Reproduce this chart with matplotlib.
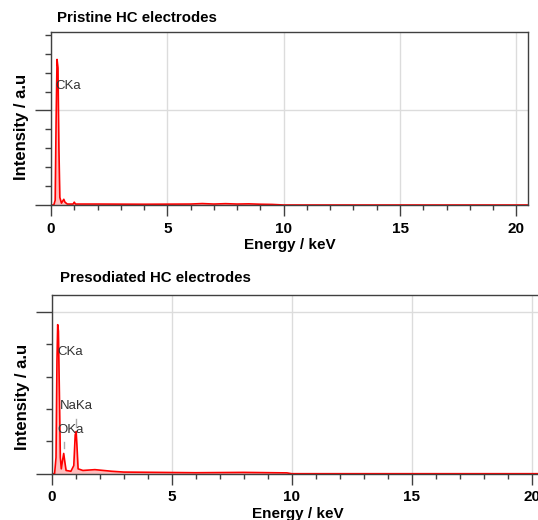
import matplotlib.pyplot as plt
from matplotlib.ticker import MultipleLocator

# EDS spektri - vrijednosti očitane sa slike (intenzitet u proizvoljnim jedinicama)
energy_pristine = [0, 0.12, 0.18, 0.22, 0.26, 0.30, 0.34, 0.38, 0.45, 0.50, 0.55, 0.60,
                   0.70, 0.95, 1.00, 1.05, 2.0, 4.0, 6.0, 6.5, 7.0, 7.5, 8.0, 8.5, 9.0,
                   9.5, 10.0, 20.5]
int_pristine = [0, 0, 0.05, 0.9, 1.54, 1.45, 0.6, 0.08, 0.02, 0.04, 0.06, 0.03,
                0.01, 0.01, 0.03, 0.01, 0.01, 0.008, 0.01, 0.015, 0.01, 0.014, 0.01,
                0.012, 0.008, 0.006, 0, 0]

energy_presod = [0, 0.12, 0.18, 0.22, 0.25, 0.28, 0.32, 0.36, 0.40, 0.45, 0.50, 0.55,
                 0.60, 0.80, 0.92, 0.98, 1.02, 1.06, 1.10, 1.30, 1.8, 2.5, 3.0, 6.0,
                 8.0, 9.8, 10.0, 20.5]
int_presod = [0, 0, 0.1, 0.7, 0.92, 0.88, 0.5, 0.1, 0.03, 0.08, 0.125, 0.07,
              0.02, 0.015, 0.05, 0.24, 0.26, 0.15, 0.03, 0.02, 0.025, 0.015, 0.01, 0.006,
              0.008, 0.005, 0, 0]

# oznake linija: (tekst, x, y)
labels_pristine = [("CKa", 0.17, 1.26)]
labels_presod = [("CKa", 0.22, 0.75), ("NaKa", 0.35, 0.42), ("OKa", 0.22, 0.27)]
markers_presod = [(0.50, 0.16, 0.196), (1.0, 0.29, 0.34)]

titles = ["Pristine HC electrodes", "Presodiated HC electrodes"]

fig = plt.figure(figsize=(5.38, 5.2), dpi=100)
ax1 = fig.add_axes([51 / 538, 315 / 520, 477 / 538, 173 / 520])
ax2 = fig.add_axes([51.7 / 538, 46.3 / 520, 492 / 538, 179 / 520])

spine_c = '#404040'
for ax, e, I, ymax in [(ax1, energy_pristine, int_pristine, 1.83),
                       (ax2, energy_presod, int_presod, 1.105)]:
    ax.fill_between(e, I, color='#ff7070', alpha=0.45, lw=0)
    ax.plot(e, I, color='red', lw=1.2)
    ax.set_xlim(0, 20.5)
    ax.set_ylim(0, ymax)
    ax.xaxis.set_major_locator(MultipleLocator(5))
    ax.xaxis.set_minor_locator(MultipleLocator(1))
    ax.yaxis.set_major_locator(MultipleLocator(1))
    ax.yaxis.set_minor_locator(MultipleLocator(0.2))
    ax.grid(True, which='major', color='#dcdcdc', lw=1)
    ax.set_axisbelow(True)
    ax.tick_params(axis='y', which='major', length=11.5, width=1, color=spine_c, labelleft=False)
    ax.tick_params(axis='y', which='minor', length=4.3, width=1, color=spine_c)
    ax.tick_params(axis='x', which='major', length=8, width=1, color=spine_c, pad=4)
    ax.tick_params(axis='x', which='minor', length=3.6, width=1, color=spine_c)
    for lab in ax.get_xticklabels():
        lab.set_fontweight('bold')
        lab.set_fontsize(11)
        lab.set_family('Liberation Sans')
    for s in ax.spines.values():
        s.set_color(spine_c)
        s.set_linewidth(1)
    ax.set_xlabel("Energy / keV", fontsize=11, fontweight='bold', family='Liberation Sans', labelpad=2)
    ax.set_ylabel("Intensity / a.u", fontsize=12, fontweight='bold', family='Liberation Sans',
                  va='center')

ax1.yaxis.set_label_coords((22 - 51) / 477, 0.45)
ax2.yaxis.set_label_coords((22 - 51.7) / 492, 0.43)

for txt, x, y in labels_pristine:
    ax1.text(x, y, txt, fontsize=9.5, color='#333333', ha='left', va='center', family='Liberation Sans')
for txt, x, y in labels_presod:
    ax2.text(x, y, txt, fontsize=9.5, color='#333333', ha='left', va='center', family='Liberation Sans')
for x, y0, y1 in markers_presod:
    ax2.plot([x, x], [y0, y1], color='#aaaaaa', lw=1)

fig.text(57 / 538, 1 - 18 / 520, titles[0], fontsize=10.8, fontweight='bold',
         family='Liberation Sans', va='center')
fig.text(60 / 538, 1 - 278 / 520, titles[1], fontsize=10.8, fontweight='bold',
         family='Liberation Sans', va='center')

fig.savefig("out.png", dpi=100)
